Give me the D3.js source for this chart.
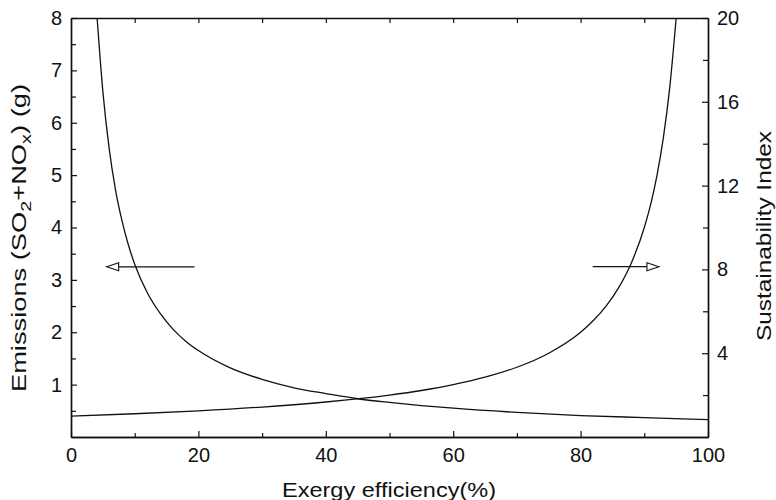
<!DOCTYPE html>
<meta charset="utf-8">
<script src="https://d3js.org/d3.v7.min.js"></script>
<style>
  body { margin: 0; background: #fff; }
  text { font-family: "Liberation Sans", Arial, sans-serif; fill: #111; }
</style>
<body>
<div id="chart"></div>
<script>
// exergy efficiency (%) sample points
var effEmis = [4.1, 5, 6, 7, 8, 9, 10, 12, 14, 16, 18, 20, 25, 30, 35, 40, 45, 50, 55, 60, 70, 80, 90, 100]
var emissions = [8.0, 6.6, 5.5, 4.71, 4.13, 3.67, 3.3, 2.75, 2.36, 2.06, 1.83, 1.65, 1.32, 1.10, 0.94, 0.83, 0.73, 0.66, 0.60, 0.55, 0.47, 0.41, 0.37, 0.33]

var effSI = [0, 10, 20, 30, 40, 50, 55, 60, 65, 70, 75, 80, 82, 84, 86, 88, 90, 91, 92, 93, 94, 95]
var sustIndex = [1.0, 1.11, 1.25, 1.43, 1.67, 2.0, 2.22, 2.5, 2.86, 3.33, 4.0, 5.0, 5.56, 6.25, 7.14, 8.33, 10, 11.1, 12.5, 14.3, 16.7, 20]

var xTicks = [0, 20, 40, 60, 80, 100]
var leftTicks = [1, 2, 3, 4, 5, 6, 7, 8]
var rightTicks = [4, 8, 12, 16, 20]

// arrows: [from x, to x] at a given value
var leftArrow = {x: [19.4, 5.6], y: 3.25}
var rightArrow = {x: [81.9, 92.3], y: 8.13}

var width = 776, height = 500
var margin = {top: 18, right: 68, bottom: 63, left: 71}

var svg = d3.select("#chart").append("svg")
  .attr("width", width)
  .attr("height", height)

var x = d3.scaleLinear().domain([0, 100]).range([margin.left, width - margin.right])
var yL = d3.scaleLinear().domain([0, 8]).range([height - margin.bottom, margin.top])
var yR = d3.scaleLinear().domain([0, 20]).range([height - margin.bottom, margin.top])

var plot = svg.append("g")
svg.append("clipPath").attr("id", "clip").append("rect")
  .attr("x", margin.left).attr("y", margin.top)
  .attr("width", x(100) - x(0)).attr("height", yL(0) - yL(8))

// minor + major ticks, pointing inside
function styleAxis(g) {
  g.select(".domain").attr("stroke", "#111").attr("stroke-width", 1.4)
  g.selectAll(".tick line").attr("stroke", "#111").attr("stroke-width", 1.2)
  g.selectAll("text").style("font-size", "20px").attr("fill", "#111")
}

var bottomY = yL(0), topY = yL(8)

svg.append("g").attr("transform", "translate(0," + bottomY + ")")
  .call(d3.axisBottom(x).tickValues(d3.range(10, 100, 20)).tickSize(-4).tickFormat("").tickSizeOuter(0))
  .call(styleAxis)
svg.append("g").attr("transform", "translate(0," + bottomY + ")")
  .call(d3.axisBottom(x).tickValues(xTicks).tickSize(-6).tickPadding(11).tickSizeOuter(0))
  .call(styleAxis)

svg.append("g").attr("transform", "translate(0," + topY + ")")
  .call(d3.axisTop(x).tickValues(d3.range(10, 100, 10)).tickSize(-5).tickFormat("").tickSizeOuter(0))
  .call(styleAxis)

svg.append("g").attr("transform", "translate(" + x(0) + ",0)")
  .call(d3.axisLeft(yL).tickValues(d3.range(0.5, 8, 1)).tickSize(-5).tickFormat("").tickSizeOuter(0))
  .call(styleAxis)
svg.append("g").attr("transform", "translate(" + x(0) + ",0)")
  .call(d3.axisLeft(yL).tickValues(leftTicks).tickSize(-6).tickPadding(9).tickSizeOuter(0))
  .call(styleAxis)

svg.append("g").attr("transform", "translate(" + x(100) + ",0)")
  .call(d3.axisRight(yR).tickValues(d3.range(2, 20, 4)).tickSize(-5).tickFormat("").tickSizeOuter(0))
  .call(styleAxis)
svg.append("g").attr("transform", "translate(" + x(100) + ",0)")
  .call(d3.axisRight(yR).tickValues(rightTicks).tickSize(-6).tickPadding(9).tickSizeOuter(0))
  .call(styleAxis)

// curves
var lineE = d3.line().x(function(d, i){ return x(effEmis[i]) }).y(function(d){ return yL(d) }).curve(d3.curveMonotoneX)
var lineS = d3.line().x(function(d, i){ return x(effSI[i]) }).y(function(d){ return yR(d) }).curve(d3.curveMonotoneX)

plot.append("path").datum(emissions).attr("d", lineE)
  .attr("fill", "none").attr("stroke", "#111").attr("stroke-width", 1.3).attr("clip-path", "url(#clip)")
plot.append("path").datum(sustIndex).attr("d", lineS)
  .attr("fill", "none").attr("stroke", "#111").attr("stroke-width", 1.3).attr("clip-path", "url(#clip)")

// arrows with open heads
function arrow(a, yScale) {
  var x0 = x(a.x[0]), x1 = x(a.x[1]), yy = yScale(a.y)
  var dir = x1 > x0 ? 1 : -1
  var headLen = 12, headW = 4
  svg.append("line")
    .attr("x1", x0).attr("y1", yy).attr("x2", x1 - dir * headLen).attr("y2", yy)
    .attr("stroke", "#111").attr("stroke-width", 1.2)
  svg.append("path")
    .attr("d", "M" + x1 + "," + yy + "L" + (x1 - dir * headLen) + "," + (yy - headW) +
      "L" + (x1 - dir * headLen) + "," + (yy + headW) + "Z")
    .attr("fill", "#fff").attr("stroke", "#111").attr("stroke-width", 1.1)
}
arrow(leftArrow, yL)
arrow(rightArrow, yR)

// axis titles
svg.append("text")
  .attr("x", 389).attr("y", 497)
  .attr("text-anchor", "middle").style("font-size", "20.5px")
  .attr("textLength", 214).attr("lengthAdjust", "spacingAndGlyphs")
  .text("Exergy efficiency(%)")

var lt = svg.append("text")
  .attr("transform", "translate(26,238) rotate(-90)")
  .attr("text-anchor", "middle").style("font-size", "20.5px")
  .attr("textLength", 308).attr("lengthAdjust", "spacingAndGlyphs")
lt.append("tspan").text("Emissions (SO")
lt.append("tspan").attr("dy", 5).style("font-size", "15px").text("2")
lt.append("tspan").attr("dy", -5).text("+NO")
lt.append("tspan").attr("dy", 5).style("font-size", "15px").text("x")
lt.append("tspan").attr("dy", -5).text(") (g)")

svg.append("text")
  .attr("transform", "translate(771,236) rotate(-90)")
  .attr("text-anchor", "middle").style("font-size", "20.5px")
  .attr("textLength", 210).attr("lengthAdjust", "spacingAndGlyphs")
  .text("Sustainability Index")
</script>
</body>
